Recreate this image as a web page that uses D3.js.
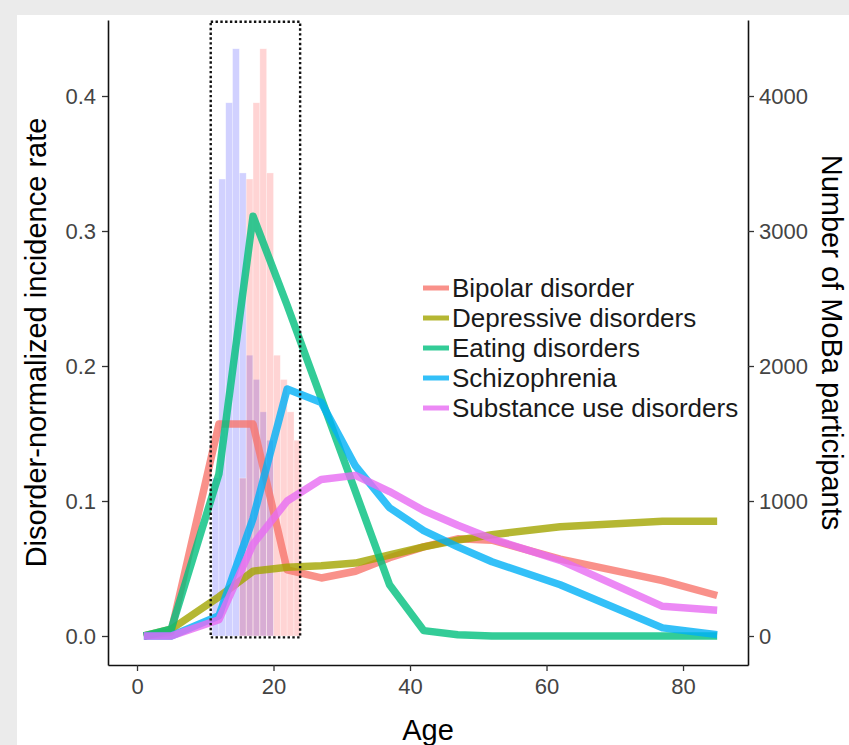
<!DOCTYPE html>
<html>
<head>
<meta charset="utf-8">
<script src="https://cdn.jsdelivr.net/npm/d3@7/dist/d3.min.js"></script>
<style>
  body { margin: 0; background: #ebebeb; overflow: hidden; }
  text { font-family: "Liberation Sans", Arial, Helvetica, sans-serif; }
</style>
</head>
<body>
<script>
// ages where the incidence curves have their points
const ages = [1, 5, 12, 17, 22, 27, 32, 37, 42, 47, 52, 62, 77, 85];

const disorders = ["Bipolar disorder", "Depressive disorders", "Eating disorders", "Schizophrenia", "Substance use disorders"];
const colors = ["#F8766D", "#A3A500", "#00BF7D", "#00B0F6", "#E76BF3"];

const bipolar     = [0, 0.003, 0.157, 0.157, 0.049, 0.043, 0.048, 0.058, 0.066, 0.072, 0.071, 0.057, 0.041, 0.030];
const depressive  = [0, 0.005, 0.029, 0.048, 0.051, 0.052, 0.054, 0.060, 0.066, 0.071, 0.075, 0.081, 0.085, 0.085];
const eating      = [0, 0.005, 0.120, 0.311, 0.245, 0.176, 0.107, 0.038, 0.004, 0.001, 0, 0, 0, 0];
const schizo      = [0, 0, 0.015, 0.087, 0.183, 0.173, 0.126, 0.095, 0.078, 0.066, 0.055, 0.038, 0.006, 0.001];
const substance   = [0, 0, 0.012, 0.068, 0.100, 0.116, 0.119, 0.107, 0.093, 0.082, 0.072, 0.056, 0.022, 0.019];

// MoBa participants per year of age (two snapshots, blue and red bars)
const binsBlue   = [11, 12, 13, 14, 15, 16, 17, 18, 19];
const countsBlue = [1170, 3385, 3950, 4350, 3430, 2080, 1900, 1660, 1450];
const binsRed    = [15, 16, 17, 18, 19, 20, 21, 22, 23];
const countsRed  = [1170, 3385, 3950, 4350, 3430, 2080, 1900, 1660, 1450];

// the dotted frame around the participant ages
const boxAges = [10.8, 23.9];
const boxRate = [-0.001, 0.455];

const xTicks = [0, 20, 40, 60, 80];
const rateTicks = [0, 0.1, 0.2, 0.3, 0.4];
const countTicks = [0, 1000, 2000, 3000, 4000];

const W = 849, H = 745;
const plot = {left: 108, right: 748, top: 20, bottom: 665};

const svg = d3.select("body").append("svg")
    .attr("width", W)
    .attr("height", H);

// grey frame, white panel
svg.append("rect").attr("width", W).attr("height", H).attr("fill", "#ebebeb");
svg.append("rect").attr("x", 17).attr("y", 15).attr("width", W - 17).attr("height", H - 15).attr("fill", "#ffffff");

// scales (ggplot style expansion around the data)
const x = d3.scaleLinear().domain([-4.25, 89.52]).range([plot.left, plot.right]);
const y = d3.scaleLinear().domain([-0.02148, 0.4563]).range([plot.bottom, plot.top]);
const yCount = d3.scaleLinear().domain([-214.8, 4563]).range([plot.bottom, plot.top]);

//////////// HISTOGRAMS ////////////

function drawBars(bins, counts, fill, alpha) {
    svg.append("g")
        .selectAll("rect")
        .data(bins.map((b, i) => ({age: b, n: counts[i]})))
        .join("rect")
        .attr("x", d => x(d.age))
        .attr("width", d => x(d.age + 1) - x(d.age))
        .attr("y", d => yCount(d.n))
        .attr("height", d => yCount(0) - yCount(d.n))
        .attr("fill", fill)
        .attr("fill-opacity", alpha)
        .attr("stroke", "#ffffff")
        .attr("stroke-opacity", 0.5)
        .attr("stroke-width", 0.6);
}
drawBars(binsBlue, countsBlue, "#0000ff", 0.18);
drawBars(binsRed, countsRed, "#ff0000", 0.17);

//////////// LINES ////////////

const series = [bipolar, depressive, eating, schizo, substance];
const line = d3.line()
    .x((d, i) => x(ages[i]))
    .y(d => y(d));

svg.append("g")
    .selectAll("path")
    .data(series)
    .join("path")
    .attr("d", d => line(d))
    .attr("fill", "none")
    .attr("stroke", (d, i) => colors[i])
    .attr("stroke-opacity", 0.8)
    .attr("stroke-width", 7.5)
    .attr("stroke-linejoin", "round");

// dotted box
svg.append("rect")
    .attr("x", x(boxAges[0]))
    .attr("y", y(boxRate[1]))
    .attr("width", x(boxAges[1]) - x(boxAges[0]))
    .attr("height", y(boxRate[0]) - y(boxRate[1]))
    .attr("fill", "none")
    .attr("stroke", "#111")
    .attr("stroke-width", 2.4)
    .attr("stroke-dasharray", "2.4,2.4");

//////////// AXES ////////////

function styleAxis(g) {
    g.select(".domain").attr("stroke", "#111").attr("stroke-width", 1.6);
    g.selectAll(".tick line").attr("stroke", "#333").attr("stroke-width", 1.3);
    g.selectAll(".tick text").attr("fill", "#444").style("font-size", "22px");
}

svg.append("g")
    .attr("transform", `translate(${plot.left},0)`)
    .call(d3.axisLeft(y).tickValues(rateTicks).tickFormat(d3.format(".1f")).tickSize(6).tickPadding(6).tickSizeOuter(0))
    .call(styleAxis);

svg.append("g")
    .attr("transform", `translate(${plot.right},0)`)
    .call(d3.axisRight(yCount).tickValues(countTicks).tickFormat(d3.format("d")).tickSize(6).tickPadding(5).tickSizeOuter(0))
    .call(styleAxis);

svg.append("g")
    .attr("transform", `translate(0,${plot.bottom})`)
    .call(d3.axisBottom(x).tickValues(xTicks).tickSize(6).tickPadding(7).tickSizeOuter(0))
    .call(styleAxis);

// axis titles
svg.append("text")
    .attr("x", (plot.left + plot.right) / 2)
    .attr("y", 740)
    .attr("text-anchor", "middle")
    .style("font-size", "29px")
    .text("Age");

svg.append("text")
    .attr("transform", `translate(46,${(plot.top + plot.bottom) / 2}) rotate(-90)`)
    .attr("text-anchor", "middle")
    .style("font-size", "29px")
    .text("Disorder-normalized incidence rate");

svg.append("text")
    .attr("transform", `translate(822,${(plot.top + plot.bottom) / 2}) rotate(90)`)
    .attr("text-anchor", "middle")
    .style("font-size", "29px")
    .text("Number of MoBa participants");

//////////// LEGEND ////////////

const legend = svg.append("g").attr("transform", "translate(423,288)");
const item = legend.selectAll("g")
    .data(disorders)
    .join("g")
    .attr("transform", (d, i) => `translate(0,${i * 30})`);

item.append("line")
    .attr("x1", 0).attr("x2", 26)
    .attr("stroke", (d, i) => colors[i])
    .attr("stroke-opacity", 0.8)
    .attr("stroke-width", 5);

item.append("text")
    .attr("x", 29)
    .attr("dy", "0.36em")
    .attr("fill", "#1a1a1a")
    .style("font-size", "26px")
    .text(d => d);
</script>
</body>
</html>
